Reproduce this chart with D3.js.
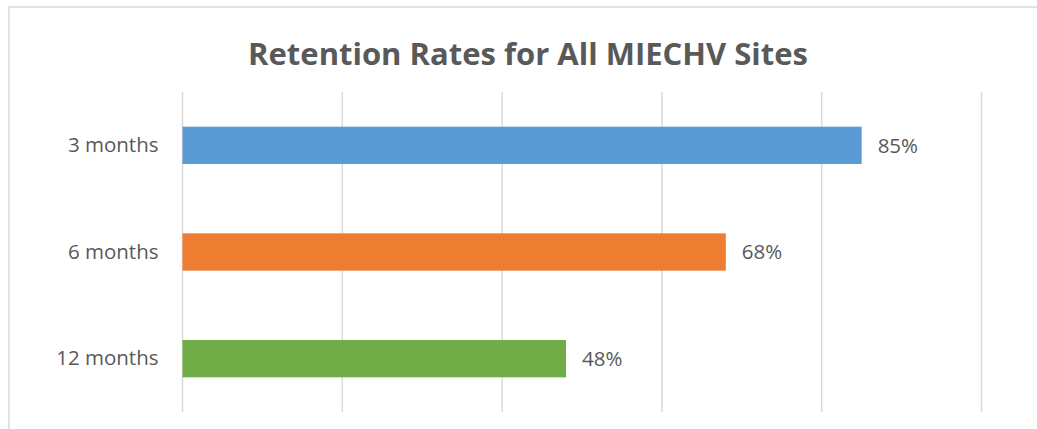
<!DOCTYPE html>
<html>
<head>
<meta charset="utf-8">
<script src="https://cdn.jsdelivr.net/npm/d3@7"></script>
<style>
  body { margin: 0; background: #fff; }
  text { font-family: "Open Sans", "Liberation Sans", sans-serif; }
</style>
</head>
<body>
<svg id="chart" width="1037" height="429"></svg>
<script>
// chart data
const categories = ["3 months", "6 months", "12 months"];
const rates = [85, 68, 48];
const barColors = ["#5B9BD5", "#ED7D31", "#70AD47"];
const gridTicks = [0, 20, 40, 60, 80, 100];
const chartTitle = "Retention Rates for All MIECHV Sites";

const svg = d3.select("#chart");
const width = +svg.attr("width");
const height = +svg.attr("height");

// outer chart border (runs off right/bottom edge)
svg.append("rect")
  .attr("x", 9).attr("y", 7)
  .attr("width", width + 10).attr("height", height + 10)
  .attr("fill", "none")
  .attr("stroke", "#d9d9d9")
  .attr("stroke-width", 1.5);

const margin = { left: 182.5, right: 1037 - 981.5, top: 92, bottom: 429 - 412 };

const x = d3.scaleLinear()
  .domain([0, 100])
  .range([margin.left, width - margin.right]);

const y = d3.scaleBand()
  .domain(categories)
  .range([margin.top, height - margin.bottom])
  .paddingInner(0.65)
  .paddingOuter(0.325);

// vertical gridlines
svg.append("g")
  .selectAll("line")
  .data(gridTicks)
  .join("line")
  .attr("x1", d => x(d)).attr("x2", d => x(d))
  .attr("y1", margin.top).attr("y2", height - margin.bottom)
  .attr("stroke", "#d9d9d9")
  .attr("stroke-width", 1.5);

// bars
svg.append("g")
  .selectAll("rect")
  .data(categories)
  .join("rect")
  .attr("x", x(0))
  .attr("y", d => y(d))
  .attr("width", (d, i) => x(rates[i]) - x(0))
  .attr("height", y.bandwidth())
  .attr("fill", (d, i) => barColors[i]);

// value labels
svg.append("g")
  .selectAll("text")
  .data(categories)
  .join("text")
  .attr("x", (d, i) => x(rates[i]) + 16)
  .attr("y", d => y(d) + y.bandwidth() / 2)
  .attr("dy", "0.35em")
  .attr("font-size", 20.5)
  .attr("fill", "#595959")
  .text((d, i) => rates[i] + "%");

// category axis labels
const yAxis = svg.append("g")
  .attr("transform", `translate(${margin.left},0)`)
  .call(d3.axisLeft(y).tickSize(0).tickPadding(24));
yAxis.select(".domain").remove();
yAxis.selectAll("text")
  .attr("font-size", 20.5)
  .attr("fill", "#595959")
  .style("font-family", '"Open Sans", sans-serif');

// title
svg.append("text")
  .attr("x", 528)
  .attr("y", 65)
  .attr("text-anchor", "middle")
  .attr("font-size", 31)
  .attr("font-weight", "bold")
  .attr("fill", "#595959")
  .text(chartTitle);
</script>
</body>
</html>
